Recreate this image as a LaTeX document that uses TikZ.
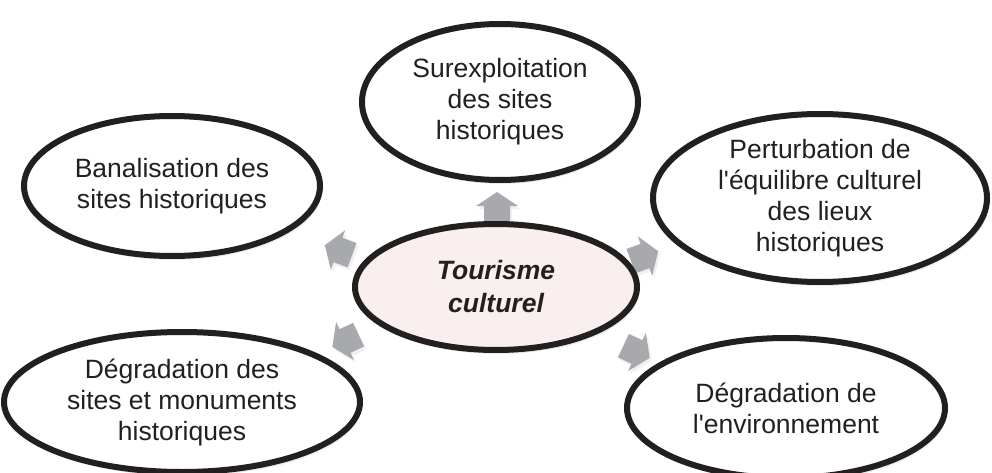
\documentclass[tikz,border=0pt]{standalone}
\usepackage{fontspec}
\setmainfont{Liberation Sans}
\usepackage{xcolor}
\usetikzlibrary{shapes.geometric,shadows}
\definecolor{ink}{HTML}{231F20}
\definecolor{spokegrey}{HTML}{A7A9AC}
\definecolor{hubfill}{HTML}{F8EFEE}

\begin{document}
\begin{tikzpicture}[x=1pt,y=-1pt,
  bubble/.style={ellipse,draw=ink,line width=6pt,fill=white,inner sep=0pt,
    align=center,text=ink,font=\fontsize{26.5}{31}\selectfont,
    drop shadow={opacity=0.15,shadow xshift=2pt,shadow yshift=-4pt}},
  hub/.style={bubble,fill=hubfill,font=\fontsize{26.5}{33}\selectfont\bfseries\itshape},
  spoke/.style={fill=spokegrey,
    drop shadow={opacity=0.12,shadow xshift=2pt,shadow yshift=-3pt}},
]
\useasboundingbox (0,0) rectangle (992,473);

% grey arrows between the hub and the outer ellipses
\foreach \ax/\ay/\ang in {497/206/90,338/250/160,645/256/20,637/352/-25,345/341/205}
{
  \begin{scope}[shift={(\ax,\ay)},rotate=\ang]
  \path[spoke] (-15,-13) -- (0,-13) -- (0,-21) -- (14,0) -- (0,21) -- (0,13)
    -- (-15,13) -- cycle;
  \end{scope}
}

\node[bubble,minimum width=276pt,minimum height=156pt] (surexploitation) at (500,102)
  {Surexploitation\\des sites\\historiques};
\node[bubble,minimum width=296pt,minimum height=140pt] (banalisation) at (172,186)
  {Banalisation des\\sites historiques};
\node[bubble,minimum width=334pt,minimum height=168pt] (perturbation) at (820,198)
  {Perturbation de\\l\textquotesingle équilibre culturel\\des lieux\\historiques};
\node[bubble,minimum width=356pt,minimum height=140pt] (degradation-sites) at (182,402)
  {Dégradation des\\sites et monuments\\historiques};
\node[bubble,minimum width=318pt,minimum height=140pt] (degradation-env) at (786,408)
  {Dégradation de\\l\textquotesingle environnement};

\node[hub,minimum width=282pt,minimum height=126pt] (tourisme) at (496,287)
  {Tourisme\\culturel};
\end{tikzpicture}
\end{document}
